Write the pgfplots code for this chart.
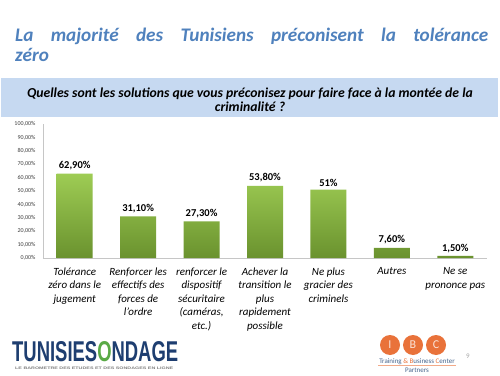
\documentclass[border=0pt]{standalone}
\usepackage{fontspec}
\setmainfont{Carlito}
\newfontfamily\logofont{Liberation Sans}
\usepackage{pgfplots}
\pgfplotsset{compat=1.18}
\definecolor{titleblue}{RGB}{79,129,189}
\definecolor{bannerblue}{RGB}{198,217,241}
\definecolor{bartop}{RGB}{158,204,84}
\definecolor{barbot}{RGB}{106,146,46}
\definecolor{tsblue}{RGB}{30,62,112}
\definecolor{tsgreen}{RGB}{90,170,70}
\definecolor{ibc}{RGB}{233,114,58}
\definecolor{ibctext}{RGB}{70,100,140}
\begin{document}
\begin{tikzpicture}[x=1pt,y=1pt]
\useasboundingbox[fill=white] (0,0) rectangle (500,375);
% banner
\fill[bannerblue] (1,258) rectangle (498,297);
% title
\node[anchor=base west, inner sep=0, text=titleblue] at (15,333)
  {\parbox[t]{473pt}{\fontsize{19.2}{20}\selectfont\bfseries\itshape La majorité des Tunisiens préconisent la tolérance\linebreak zéro}};
% question
\node[anchor=base, inner sep=0, align=center, font=\fontsize{13.7}{14}\selectfont\bfseries\itshape] at (250,263)
  {Quelles sont les solutions que vous préconisez pour faire face à la montée de la\\criminalité ?};
\begin{scope}[shift={(43pt,117pt)}]
\begin{axis}[
  anchor=south west,
  width=444pt, height=134pt, scale only axis,
  xmin=-0.5, xmax=6.5, ymin=0, ymax=100,
  axis x line*=bottom, axis y line*=left,
  axis line style={draw=gray!45, -},
  ytick={0,10,...,100},
  yticklabels={{0,00\%},{10,00\%},{20,00\%},{30,00\%},{40,00\%},{50,00\%},{60,00\%},{70,00\%},{80,00\%},{90,00\%},{100,00\%}},
  yticklabel style={font=\fontsize{6}{7}\selectfont, text=black!75, xshift=-4pt},
  xtick={0,...,6},
  xticklabels={{Tolérance\\zéro dans le\\jugement},{Renforcer les\\effectifs des\\forces de\\l'ordre},{renforcer le\\dispositif\\sécuritaire\\(caméras,\\etc.)},{Achever la\\transition le\\plus\\rapidement\\possible},{Ne plus\\gracier des\\criminels},{Autres},{Ne se\\prononce pas}},
  xticklabel style={font=\fontsize{11}{13.5}\selectfont\itshape, align=center, yshift=-6pt},
  major tick length=0pt,
  tick style={draw=none},
  nodes near coords,
  point meta=explicit symbolic,
  every node near coord/.append style={font=\fontsize{10.5}{12}\selectfont\bfseries},
  clip=false,
]
\addplot[ybar, bar width=36pt, draw=none, top color=bartop, bottom color=barbot]
coordinates {(0,62.9) [62,90\%] (1,31.1) [31,10\%] (2,27.3) [27,30\%] (3,53.8) [53,80\%] (4,51) [51\%] (5,7.6) [7,60\%] (6,1.5) [1,50\%]};
\end{axis}
\end{scope}
% TunisieSondage logo
\node[anchor=south west, inner sep=0] at (12,13)
  {\resizebox{166pt}{20pt}{\logofont\bfseries\color{tsblue}TUNISIES\textcolor{tsgreen}{O}NDAGE}};
\node[anchor=base west, inner sep=0, text=gray] at (15,6)
  {\resizebox{158pt}{2.5pt}{\logofont\bfseries LE BAROMETRE DES ETUDES ET DES SONDAGES EN LIGNE}};
% IBC logo
\foreach \cx/\l in {390/I,413/B,436/C}{
  \fill[ibc] (\cx,30) circle (10);
  \node[text=white!80!ibc, font=\fontsize{12}{12}\selectfont] at (\cx,30) {\l};
}
\node[anchor=base, inner sep=0, font=\fontsize{7}{8}\selectfont, text=ibctext] at (417,12)
  {Training \textcolor{ibc}{\&} \textcolor{ibc}{B}usiness \textcolor{ibc}{C}enter};
\draw[ibc!60, line width=0.4pt] (378,9.5) -- (456,9.5);
\node[anchor=base, inner sep=0, font=\fontsize{7}{8}\selectfont, text=ibctext] at (417,3)
  {Partners};
\node[anchor=base, inner sep=0, font=\fontsize{7}{8}\selectfont, text=gray!70] at (468,17) {9};
\end{tikzpicture}
\end{document}
